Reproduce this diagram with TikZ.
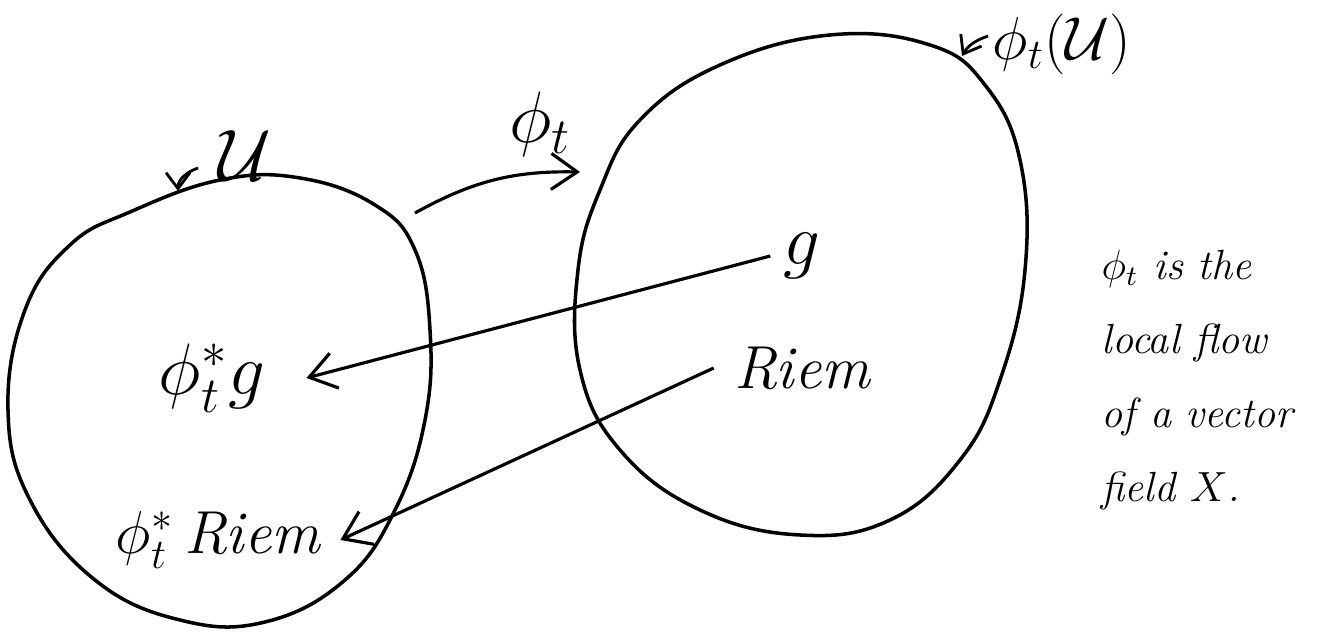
\documentclass[tikz,border=0pt]{standalone}
\usepackage{amsmath}
\usepackage{amssymb}
\usetikzlibrary{
  arrows.meta,
  positioning,
  calc
}

\begin{document}
\begin{tikzpicture}[line width=0.9pt, >={Straight Barb[length=2.6mm,width=3.6mm]},
    every node/.style={font=\Large\itshape},
    blob/.style={line width=1pt}]
    \useasboundingbox (0,0) rectangle (13.17,6.36);

    % Region U
    \draw[blob] plot[smooth cycle, tension=0.7] coordinates {
        (1.30,4.24) (2.20,4.56) (3.00,4.58) (3.75,4.31) (4.15,3.86) (4.30,3.06)
        (4.25,2.16) (3.95,1.26) (3.45,0.56) (2.65,0.14) (1.80,0.16) (0.95,0.56)
        (0.30,1.36) (0.08,2.26) (0.25,3.26) (0.70,3.91)};

    % Image region
    \draw[blob] plot[smooth cycle, tension=0.7] coordinates {
        (6.40,5.16) (7.20,5.71) (8.30,6.01) (9.30,5.91) (9.85,5.51) (10.20,4.76)
        (10.25,3.66) (10.00,2.56) (9.60,1.76) (8.90,1.16) (8.00,1.01) (7.00,1.26)
        (6.20,1.86) (5.80,2.66) (5.78,3.66) (6.00,4.46)};

    % Labels of the regions
    \node (lblU) at (2.45,4.80) {\huge $\mathcal{U}$};
    \coordinate (uTail) at (1.98,4.68);
    \coordinate (uHead) at (1.78,4.45);
    \draw[->, line width=0.8pt, >={Straight Barb[length=1.6mm,width=2.4mm]}] (uTail) to[out=200, in=90] (uHead);

    \node (lblPhiU) at (10.62,5.92) {\LARGE $\phi_t(\mathcal{U})$};
    \coordinate (pTail) at (9.88,6.00);
    \coordinate (pHead) at (9.62,5.80);
    \draw[->, line width=0.8pt, >={Straight Barb[length=1.6mm,width=2.4mm]}] (pTail) to[out=200, in=60] (pHead);

    % Flow map
    \coordinate (flowA) at (4.15,4.23);
    \coordinate (flowB) at (5.80,4.64);
    \draw[->] (flowA) to[bend left=15] (flowB);
    \node (lblPhi) at (5.40,5.12) {\huge $\phi_t$};

    % Metric and curvature
    \node (g) at (8.02,3.80) {\huge $g$};
    \node (riem) at (8.02,2.68) {\LARGE Riem};
    \node (pullg) at (2.12,2.58) {\huge $\phi_t^{*} g$};
    \node (pullriem) at (2.18,0.96) {\LARGE $\phi_t^{*}$\,Riem};

    \draw[->] (g.west) -- ([xshift=8pt]pullg.east);
    \draw[->] ([xshift=-2pt]riem.west) -- ([xshift=2pt]pullriem.east);

    % Note
    \node[align=left, anchor=west, inner sep=0pt, font=\large\itshape] (note) at (11.00,2.56) {
        $\phi_t$ is the\\[7pt]
        local flow\\[7pt]
        of a vector\\[7pt]
        field $X$.};
\end{tikzpicture}
\end{document}
